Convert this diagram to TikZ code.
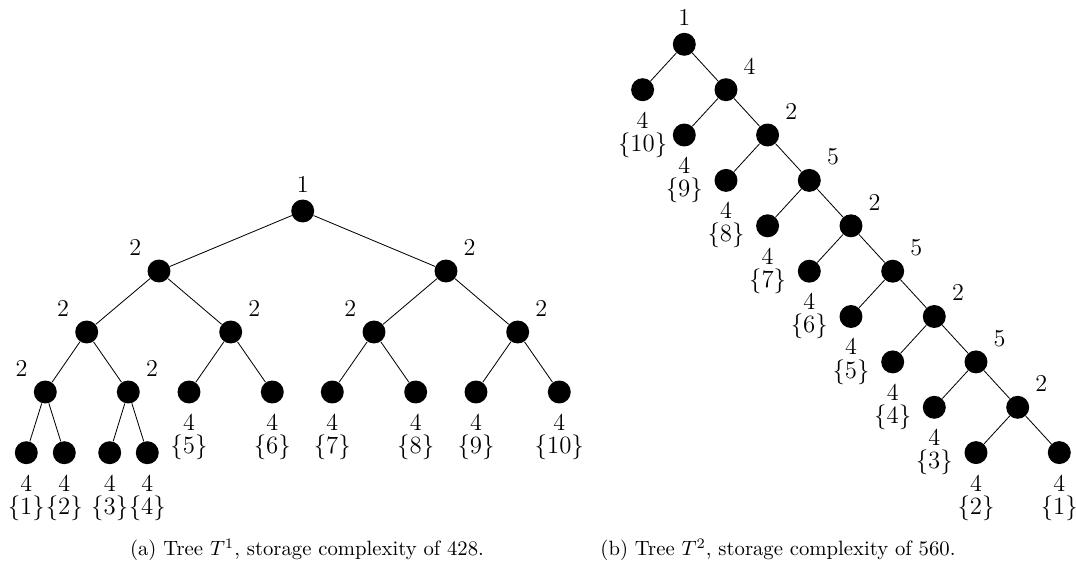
\documentclass[tikz,border=0pt]{standalone}
\usetikzlibrary{calc}
\begin{document}
\begin{tikzpicture}[x=0.4831pt, y=-0.4831pt,
  v/.style={circle, fill=black, inner sep=0pt, minimum size=11.1pt},
  every label/.style={font=\fontsize{11.7}{14}\selectfont},
  labl/.style={label={[anchor=center,label distance=10.4pt]135:#1}},
  labr/.style={label={[anchor=center,label distance=10.4pt]45:#1}},
  labt/.style={label={[anchor=center,label distance=7pt]90:#1}},
  leaf/.style={v,
    label={[anchor=center,label distance=8.9pt]-90:4},
    label={[anchor=center,label distance=21pt]-90:$\{#1\}$}},
  edge/.style={draw, line width=0.4pt}]
\useasboundingbox (0,0) rectangle (1076,575);

% ---- tree T^1 : balanced binary tree ----
\node[v, labt=1]  (r)    at (302.7,211) {};
\node[v, labl=2]  (a)    at (159,271) {};
\node[v, labr=2]  (b)    at (446,271) {};
\node[v, labl=2]  (aa)   at (86.7,332) {};
\node[v, labr=2]  (ab)   at (230.7,332) {};
\node[v, labl=2]  (ba)   at (374,332) {};
\node[v, labr=2]  (bb)   at (517.7,332) {};
\node[v, labl=2]  (aaa)  at (45.3,392) {};
\node[v, labr=2]  (aab)  at (128.3,392) {};
\node[leaf=5]     (aba)  at (189,392) {};
\node[leaf=6]     (abb)  at (272.3,392) {};
\node[leaf=7]     (baa)  at (332.3,392) {};
\node[leaf=8]     (bab)  at (415.7,392) {};
\node[leaf=9]     (bba)  at (476,392) {};
\node[leaf=10]    (bbb)  at (559.3,392) {};
\node[leaf=1]     (aaaa) at (26.3,452.7) {};
\node[leaf=2]     (aaab) at (64.3,452.7) {};
\node[leaf=3]     (aaba) at (109.7,452.7) {};
\node[leaf=4]     (aabb) at (147.3,452.7) {};

\path[edge] (r) -- (a)  (r) -- (b)
  (a) -- (aa)  (a) -- (ab)  (b) -- (ba)  (b) -- (bb)
  (aa) -- (aaa)  (aa) -- (aab)  (ab) -- (aba)  (ab) -- (abb)
  (ba) -- (baa)  (ba) -- (bab)  (bb) -- (bba)  (bb) -- (bbb)
  (aaa) -- (aaaa)  (aaa) -- (aaab)  (aab) -- (aaba)  (aab) -- (aabb);

% ---- tree T^2 : caterpillar ----
\node[v, labt=1] (R0) at (684.3,44.3) {};
\node[v, labr=4] (R1) at (726.0,89.7) {};
\node[v, labr=2] (R2) at (767.6,135.0) {};
\node[v, labr=5] (R3) at (809.3,180.4) {};
\node[v, labr=2] (R4) at (851.0,225.8) {};
\node[v, labr=5] (R5) at (892.7,271.2) {};
\node[v, labr=2] (R6) at (934.3,316.5) {};
\node[v, labr=5] (R7) at (976.0,361.9) {};
\node[v, labr=2] (R8) at (1017.7,407.3) {};
\node[leaf=10] (Q0) at (642.6,89.7) {};
\node[leaf=9]  (Q1) at (684.3,135.0) {};
\node[leaf=8]  (Q2) at (726.0,180.4) {};
\node[leaf=7]  (Q3) at (767.6,225.8) {};
\node[leaf=6]  (Q4) at (809.3,271.2) {};
\node[leaf=5]  (Q5) at (851.0,316.5) {};
\node[leaf=4]  (Q6) at (892.7,361.9) {};
\node[leaf=3]  (Q7) at (934.3,407.3) {};
\node[leaf=2]  (Q8) at (976.0,452.6) {};
\node[leaf=1]  (Q9) at (1059.3,452.6) {};

\foreach \i [evaluate=\i as \j using int(\i+1)] in {0,...,7} {
  \path[edge] (R\i) -- (Q\i)  (R\i) -- (R\j);
}
\path[edge] (R8) -- (Q8)  (R8) -- (Q9);

% ---- captions ----
\node (capa) at (307,550) {(a) Tree $T^1$, storage complexity of 428.};
\node (capb) at (778,550) {(b) Tree $T^2$, storage complexity of 560.};
\end{tikzpicture}
\end{document}
